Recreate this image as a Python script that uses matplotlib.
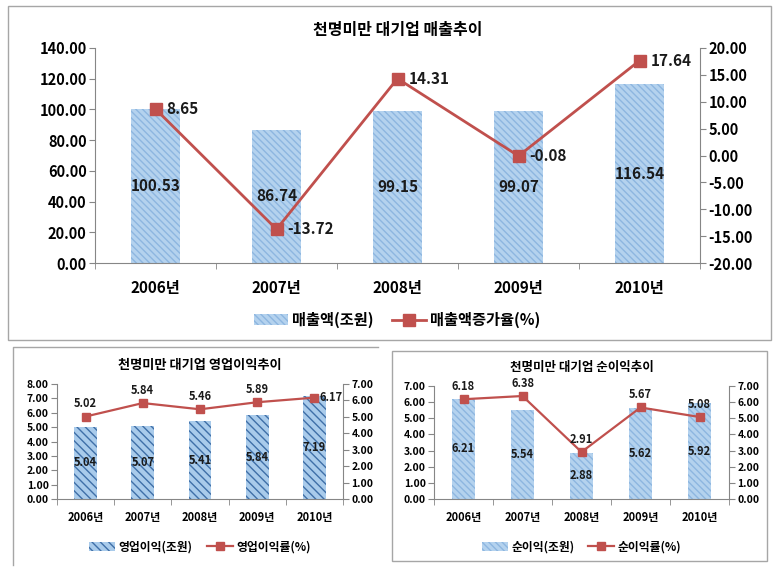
import matplotlib
matplotlib.use("Agg")
import matplotlib.pyplot as plt
from matplotlib.patches import Rectangle
from matplotlib.lines import Line2D
import numpy as np

plt.rcParams['font.family'] = ['Noto Sans CJK KR', 'DejaVu Sans']
plt.rcParams['hatch.linewidth'] = 1.0

years = ['2006년', '2007년', '2008년', '2009년', '2010년']

sales = [100.53, 86.74, 99.15, 99.07, 116.54]
sales_growth = [8.65, -13.72, 14.31, -0.08, 17.64]

op_profit = [5.04, 5.07, 5.41, 5.84, 7.19]
op_margin = [5.02, 5.84, 5.46, 5.89, 6.17]

net_profit = [6.21, 5.54, 2.88, 5.62, 5.92]
net_margin = [6.18, 6.38, 2.91, 5.67, 5.08]

W, H = 779, 576
fig = plt.figure(figsize=(W / 100, H / 100), dpi=100)
fig.patch.set_facecolor('white')

LINE = '#C0504D'
SPINE = '#868686'
FRAME = '#A6A6A6'


def frame(x0, y0, x1, y1):
    fig.add_artist(Rectangle((x0 / W, 1 - y1 / H), (x1 - x0) / W, (y1 - y0) / H,
                             transform=fig.transFigure, fill=False,
                             edgecolor=FRAME, linewidth=1.0))


def fline(xs, ys):
    fig.add_artist(Line2D([x / W for x in xs], [1 - y / H for y in ys],
                          transform=fig.transFigure, color=FRAME, linewidth=1.0))


def panel(rect, title, bars, line, bar_name, line_name, lyl, ryl, lstep, rstep,
          fs, xfs, lfs, title_fs, title_y, legend_y, bar_fc, bar_hc, hatch, msize,
          line_label_pos, lw, xlab_pad):
    x0, y0, x1, y1 = rect
    ax = fig.add_axes([x0 / W, 1 - y1 / H, (x1 - x0) / W, (y1 - y0) / H])
    ax2 = ax.twinx()
    x = np.arange(len(years))
    ax.bar(x, bars, width=0.4, color=bar_fc, edgecolor=bar_hc, hatch=hatch,
           linewidth=0, label=bar_name, zorder=2)
    ax2.plot(x, line, color=LINE, marker='s', markersize=msize, linewidth=lw,
             label=line_name, zorder=3)
    ax.set_xlim(-0.5, len(years) - 0.5)
    ax.set_ylim(*lyl)
    ax2.set_ylim(*ryl)
    ax.set_yticks(np.arange(lyl[0], lyl[1] + 1e-9, lstep))
    ax2.set_yticks(np.arange(ryl[0], ryl[1] + 1e-9, rstep))
    ax.set_yticklabels([f'{v:.2f}' for v in ax.get_yticks()], fontsize=fs, fontweight='bold')
    ax2.set_yticklabels([f'{v:.2f}' for v in ax2.get_yticks()], fontsize=fs, fontweight='bold')
    ax.set_xticks(x)
    ax.set_xticklabels(years, fontsize=xfs, fontweight='bold')
    ax.set_xticks(np.arange(-0.5, len(years), 1.0), minor=True)
    ax.tick_params(axis='x', which='major', length=0, pad=xlab_pad)
    ax.tick_params(axis='x', which='minor', length=4, color=SPINE)
    ax.tick_params(axis='y', length=4, color=SPINE, pad=2)
    ax2.tick_params(axis='y', length=4, color=SPINE, pad=2)
    for a in (ax, ax2):
        a.spines['top'].set_visible(False)
        for s in ('left', 'right', 'bottom'):
            a.spines[s].set_color(SPINE)
    ax.spines['right'].set_visible(False)
    ax2.spines['left'].set_visible(False)
    ax2.spines['bottom'].set_visible(False)
    ax.set_facecolor('none')
    # bar labels in middle
    for xi, v in zip(x, bars):
        ax.text(xi, v / 2, f'{v:.2f}', ha='center', va='center', fontsize=xfs,
                fontweight='bold', color='#1a1a1a', zorder=4)
    # line labels
    rng = ryl[1] - ryl[0]
    for xi, v, pos in zip(x, line, line_label_pos):
        if pos == 'right':
            ax2.text(xi + 0.09, v, f'{v:.2f}', ha='left', va='center', fontsize=xfs,
                     fontweight='bold', color='#1a1a1a', zorder=4)
        else:
            ax2.text(xi, v + rng * 0.055, f'{v:.2f}', ha='center', va='bottom',
                     fontsize=xfs, fontweight='bold', color='#1a1a1a', zorder=4)
    fig.text((x0 + x1) / 2 / W, 1 - title_y / H, title, ha='center', va='center',
             fontsize=title_fs, fontweight='bold')
    h1, l1 = ax.get_legend_handles_labels()
    h2, l2 = ax2.get_legend_handles_labels()
    fig.legend(h1 + h2, l1 + l2, loc='center', bbox_to_anchor=((x0 + x1) / 2 / W, 1 - legend_y / H),
               ncol=2, frameon=False, prop={'size': lfs, 'weight': 'bold'},
               handlelength=2.2, columnspacing=1.2, handletextpad=0.3)
    return ax, ax2


# frames
frame(8, 6, 771, 340)
fline([13, 13, 378], [565, 347, 347])
frame(392, 351, 767, 561)

# top panel
panel((95, 48, 700, 263), '천명미만 대기업 매출추이', sales, sales_growth,
      '매출액(조원)', '매출액증가율(%)', (0, 140), (-20, 20), 20, 5,
      fs=10.5, xfs=11, lfs=11, title_fs=11.5, title_y=30, legend_y=320,
      bar_fc='#B4D2EE', bar_hc='#8DB6E0', hatch='\\\\\\\\\\', msize=8,
      line_label_pos=['right'] * 5, lw=2.0, xlab_pad=12)

# bottom-left panel
panel((57, 384, 343, 499), '천명미만 대기업 영업이익추이', op_profit, op_margin,
      '영업이익(조원)', '영업이익률(%)', (0, 8), (0, 7), 1, 1,
      fs=7.5, xfs=8, lfs=8.5, title_fs=9.5, title_y=365, legend_y=547,
      bar_fc='#A9CBEB', bar_hc='#3F6FA8', hatch='\\\\\\\\', msize=5.5,
      line_label_pos=['above', 'above', 'above', 'above', 'right'], lw=1.6, xlab_pad=9)

# bottom-right panel
panel((434, 386, 729, 499), '천명미만 대기업 순이익추이', net_profit, net_margin,
      '순이익(조원)', '순이익률(%)', (0, 7), (0, 7), 1, 1,
      fs=7.5, xfs=8, lfs=8.5, title_fs=9, title_y=367, legend_y=547,
      bar_fc='#B4D2EE', bar_hc='#8DB6E0', hatch='\\\\\\\\\\', msize=5.5,
      line_label_pos=['above'] * 5, lw=1.6, xlab_pad=9)

fig.savefig('out.png', dpi=100)
